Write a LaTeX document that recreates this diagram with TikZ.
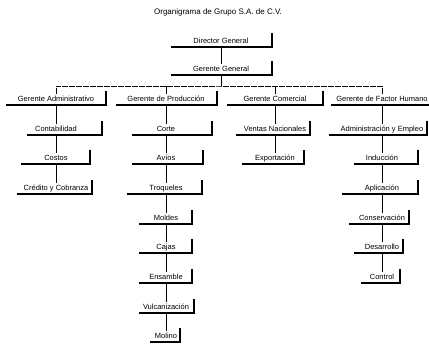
\documentclass[tikz,border=0pt]{standalone}
\usepackage{fontspec}
\setmainfont{Liberation Sans}
% name, cx, line y, left x, right x, text
\newcommand\orgbox[6]{%
  \node[ob] (#1) at (#2,#3) {#6};
  \draw[obline] (#4,#3) -- (#5,#3) -- ++(0,-13);
}
\begin{document}
\begin{tikzpicture}[x=1pt,y=-1pt,
  ob/.style={font=\fontsize{7.5}{8}\selectfont, inner xsep=0pt, inner ysep=2pt,
             text height=5.5pt, text depth=1.5pt, anchor=south},
  obline/.style={line width=1.1pt, line cap=rect},
  conn/.style={line width=0.8pt},
  busline/.style={line width=0.7pt, dash pattern=on 6pt off 1pt},
  titlestyle/.style={font=\fontsize{8}{9}\selectfont, inner sep=0pt}]
\useasboundingbox (0,0) rectangle (429,347);
\clip (0,0) rectangle (429,347);
\node[titlestyle] (title) at (218,12) {Organigrama de Grupo S.A. de C.V.};
% top
\orgbox{dg}{221}{47}{172}{272}{Director General}
\orgbox{gg}{221}{75}{172}{272}{Gerente General}
% level 2
\orgbox{ga}{56}{105}{7}{106}{Gerente Administrativo}
\orgbox{gp}{166}{105}{117}{217}{Gerente de Producción}
\orgbox{gc}{275}{105}{228}{323}{Gerente Comercial}
\orgbox{gf}{382}{105}{332}{434}{Gerente de Factor Humano}
% administrativo
\orgbox{a1}{56}{135}{28}{102}{Contabilidad}
\orgbox{a2}{56}{164}{22}{90}{Costos}
\orgbox{a3}{56}{194}{18}{92}{Crédito y Cobranza}
% produccion
\orgbox{p1}{166}{135}{133}{212}{Corte}
\orgbox{p2}{166}{164}{133}{203}{Avíos}
\orgbox{p3}{166}{194}{128}{202}{Troqueles}
\orgbox{p4}{166}{224}{140}{192}{Moldes}
\orgbox{p5}{166}{253}{140}{192}{Cajas}
\orgbox{p6}{166}{283}{140}{192}{Ensamble}
\orgbox{p7}{166}{313}{140}{194}{Vulcanización}
\orgbox{p8}{166}{342}{151}{180}{Molino}
% comercial
\orgbox{c1}{275}{135}{237}{310}{Ventas Nacionales}
\orgbox{c2}{275}{164}{243}{304}{Exportación}
% factor humano
\orgbox{f1}{382}{135}{330}{427}{Administración y Empleo}
\orgbox{f2}{382}{164}{355}{418}{Inducción}
\orgbox{f3}{382}{194}{343}{418}{Aplicación}
\orgbox{f4}{382}{224}{350}{409}{Conservación}
\orgbox{f5}{382}{253}{355}{403}{Desarrollo}
\orgbox{f6}{382}{283}{362}{400}{Control}
% connectors
\coordinate (bus) at (221,86);
\draw[conn] (dg.south) -- (gg.north);
\draw[conn] (gg.south) -- (bus);
\draw[busline] (ga.north) |- (bus) -| (gf.north);
\draw[conn] (gp.north) -- (gp.north |- bus);
\draw[conn] (gc.north) -- (gc.north |- bus);
\draw[conn] (ga.south) -- (a1.north);
\draw[conn] (a1.south) -- (a2.north);
\draw[conn] (a2.south) -- (a3.north);
\draw[conn] (gp.south) -- (p1.north);
\draw[conn] (p1.south) -- (p2.north);
\draw[conn] (p2.south) -- (p3.north);
\draw[conn] (p3.south) -- (p4.north);
\draw[conn] (p4.south) -- (p5.north);
\draw[conn] (p5.south) -- (p6.north);
\draw[conn] (p6.south) -- (p7.north);
\draw[conn] (p7.south) -- (p8.north);
\draw[conn] (gc.south) -- (c1.north);
\draw[conn] (c1.south) -- (c2.north);
\draw[conn] (gf.south) -- (f1.north);
\draw[conn] (f1.south) -- (f2.north);
\draw[conn] (f2.south) -- (f3.north);
\draw[conn] (f3.south) -- (f4.north);
\draw[conn] (f4.south) -- (f5.north);
\draw[conn] (f5.south) -- (f6.north);
\end{tikzpicture}
\end{document}
